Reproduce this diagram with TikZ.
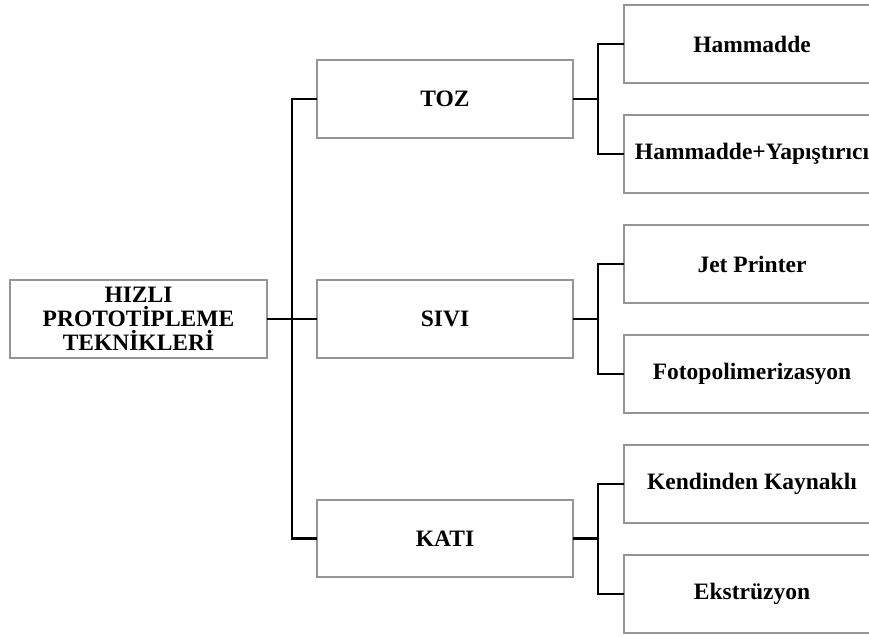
\documentclass[tikz,border=0pt]{standalone}
\usepackage{fontspec}
\setmainfont{Liberation Serif}
\definecolor{boxgray}{HTML}{959595}
\begin{document}
\begin{tikzpicture}[x=1bp,y=-1bp,
  box/.style={draw=boxgray, line width=1.5bp, minimum width=256bp, minimum height=78bp,
    inner sep=0pt, outer sep=0pt, align=center,
    font=\bfseries\fontsize{23.5bp}{23.7bp}\selectfont},
  link/.style={line width=2.8bp, draw=black, line join=miter}]
\useasboundingbox (0,0) rectangle (869,637);
\clip (0,0) rectangle (869,637);
% main
\node[box, minimum width=257bp] (main) at (138.5,319) {HIZLI\\PROTOTİPLEME\\TEKNİKLERİ};
% level 1
\node[box] (toz)  at (445,99)  {TOZ};
\node[box] (sivi) at (445,319) {SIVI};
\node[box, minimum height=77bp] (kati) at (445,538.5) {KATI};
% level 2
\node[box] (h1) at (752,44)  {Hammadde};
\node[box] (h2) at (752,154) {Hammadde+Yapıştırıcı};
\node[box] (s1) at (752,264) {Jet Printer};
\node[box] (s2) at (752,374) {Fotopolimerizasyon};
\node[box] (k1) at (752,484) {Kendinden Kaynaklı};
\node[box] (k2) at (752,594) {Ekstrüzyon};
% joints
\coordinate (j0) at (292,319);
\coordinate (jt) at (598,99);
\coordinate (js) at (598,319);
\coordinate (jk) at (598,538.5);
% connectors
\draw[link] (main.east) -- (sivi.west);
\draw[link] (toz.west) -| (j0) |- (kati.west);
\draw[link] (toz.east) -- (jt);
\draw[link] (h1.west) -| (jt) |- (h2.west);
\draw[link] (sivi.east) -- (js);
\draw[link] (s1.west) -| (js) |- (s2.west);
\draw[link] (kati.east) -- (jk);
\draw[link] (k1.west) -| (jk) |- (k2.west);
\end{tikzpicture}
\end{document}
